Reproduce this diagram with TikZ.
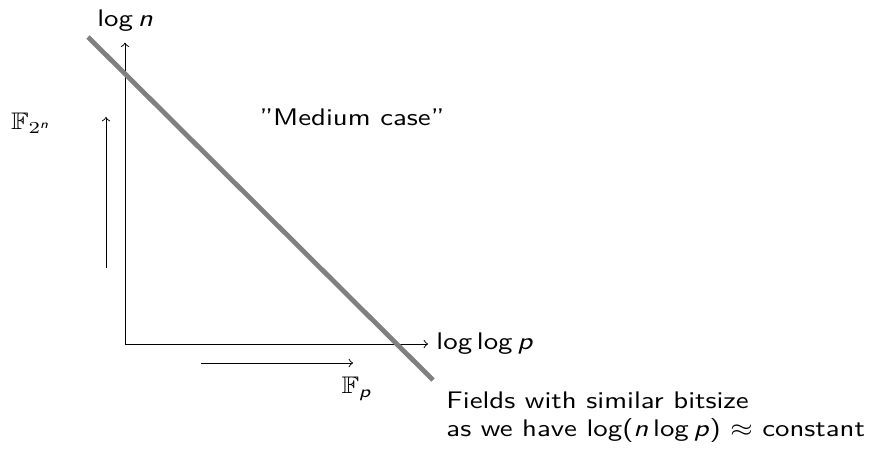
\documentclass[tikz,border=0pt]{standalone}
\usepackage{amsmath}
\usepackage{amssymb}
\usepackage{graphicx}
\usepackage{tikz}

% the labels are set a little wider than they are high
\newcommand{\wide}[1]{\scalebox{1.2}[1]{#1}}

\tikzset{
  axis/.style={->, thin},
  field/.style={->, thin},
  sizeline/.style={line width=2pt, gray, line cap=butt}
}

\begin{document}
\begin{tikzpicture}[x=0.4167pt, y=-0.4167pt, every node/.style={font=\sffamily}]
    \useasboundingbox (0,0) rectangle (871,455);
    % axes: origin at (125,344), pixel units, y grows downwards
    \coordinate (O) at (125,344);
    \node (logn) at (125,21) {\wide{log\,\textit{n}}};
    \node[anchor=west] (loglogp) at (428,344) {\wide{log\,log\,\textit{p}}};
    \draw[axis, shorten >=1pt] (O) -- (logn.south);
    \draw[axis] (O) -- (loglogp.west);
    % field arrows
    \coordinate (pa) at (201,363);
    \coordinate (pb) at (353,363);
    \draw[field] (pa) -- (pb);
    \node (Fp) at (357,389) {\wide{$\mathbb{F}_{\textsf{\textit{p}}}$}};
    \coordinate (qa) at (106,268);
    \coordinate (qb) at (106,117);
    \draw[field] (qa) -- (qb);
    \node (F2n) at (31,123) {\wide{$\mathbb{F}_{2^{\textsf{\textit{n}}}}$}};
    % line of equal bitsize
    \coordinate (s1) at (88,37);
    \coordinate (s2) at (433,380);
    \draw[sizeline] (s1) -- (s2);
    \node (medium) at (352,117) {\wide{"Medium case"}};
    \node[anchor=north west, align=left, inner sep=0pt] (bits) at (446,391)
      {\wide{Fields with similar bitsize}\\
       \wide{as we have log(\textit{n}\,log\,\textit{p}) $\approx$ constant}};
  \end{tikzpicture}
\end{document}
